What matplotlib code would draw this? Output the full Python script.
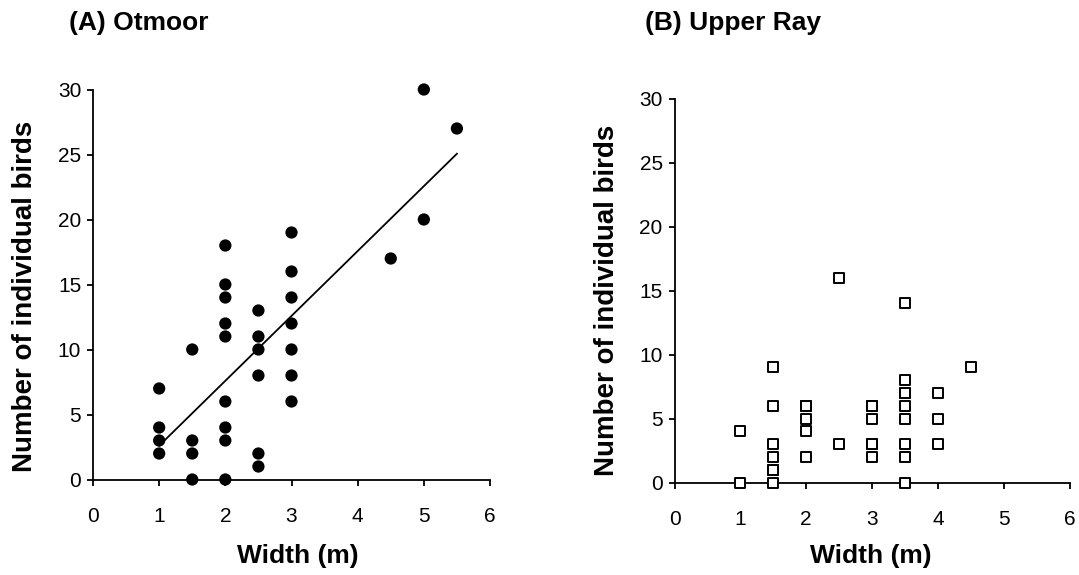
import numpy as np
import matplotlib
matplotlib.use("Agg")
import matplotlib.pyplot as plt

plt.rcParams['font.family'] = ['Liberation Sans', 'DejaVu Sans']

# Otmoor: hedge width (m) vs number of individual birds
otmoor_width = [1, 1, 1, 1,
                1.5, 1.5, 1.5, 1.5,
                2, 2, 2, 2, 2, 2, 2, 2, 2,
                2.5, 2.5, 2.5, 2.5, 2.5, 2.5,
                3, 3, 3, 3, 3, 3, 3,
                4.5, 5, 5, 5.5]
otmoor_birds = [7, 4, 3, 2,
                10, 3, 2, 0,
                18, 15, 14, 12, 11, 6, 4, 3, 0,
                13, 11, 10, 8, 2, 1,
                19, 16, 14, 12, 10, 8, 6,
                17, 30, 20, 27]

# Upper Ray: hedge width (m) vs number of individual birds
upper_ray_width = [1, 1,
                   1.5, 1.5, 1.5, 1.5, 1.5, 1.5, 1.5,
                   2, 2, 2, 2, 2,
                   2.5, 2.5,
                   3, 3, 3, 3, 3, 3,
                   3.5, 3.5, 3.5, 3.5, 3.5, 3.5, 3.5, 3.5, 3.5,
                   4, 4, 4,
                   4.5]
upper_ray_birds = [4, 0,
                   9, 6, 3, 2, 1, 1, 0,
                   6, 6, 5, 4, 2,
                   16, 3,
                   6, 6, 5, 3, 3, 2,
                   14, 8, 7, 7, 6, 5, 3, 2, 0,
                   7, 5, 3,
                   9]

x_ticks = [0, 1, 2, 3, 4, 5, 6]
y_ticks = [0, 5, 10, 15, 20, 25, 30]

W, H = 1079, 575
fig = plt.figure(figsize=(W / 100, H / 100), dpi=100)


def box(l, t, r, b):
    return [l / W, 1 - b / H, (r - l) / W, (b - t) / H]


ax_a = fig.add_axes(box(93, 89.5, 490, 479.5))
ax_b = fig.add_axes(box(674.5, 98.5, 1069.5, 482.5))

for ax in (ax_a, ax_b):
    ax.set_xlim(0, 6)
    ax.set_ylim(0, 30)
    ax.set_xticks(x_ticks)
    ax.set_yticks(y_ticks)
    for s in ('top', 'right'):
        ax.spines[s].set_visible(False)
    for s in ('left', 'bottom'):
        ax.spines[s].set_linewidth(1.3)
        ax.spines[s].set_zorder(2)
    ax.tick_params(axis='both', direction='out', length=4.5, width=1.3,
                   labelsize=15, color='black')
    ax.tick_params(axis='x', pad=15)
    ax.tick_params(axis='y', pad=4)

# Panel A: filled circles with a least-squares trend line
ax_a.scatter(otmoor_width, otmoor_birds, s=78, color='black',
             edgecolors='none', zorder=3, clip_on=False)
slope, intercept = np.polyfit(otmoor_width, otmoor_birds, 1)
xfit = np.array([min(otmoor_width), max(otmoor_width)])
ax_a.plot(xfit, slope * xfit + intercept, color='black', lw=1.3, zorder=2)

# Panel B: open squares
ax_b.scatter(upper_ray_width, upper_ray_birds, s=46, marker='s',
             facecolors='white', edgecolors='black', linewidths=1.4,
             zorder=3, clip_on=False)

label_kw = dict(fontsize=19, fontweight='bold')
fig.text(69 / W, 1 - 23 / H, '(A) Otmoor', ha='left', va='center', **label_kw)
fig.text(645 / W, 1 - 23 / H, '(B) Upper Ray', ha='left', va='center', **label_kw)

fig.text(298 / W, 1 - 556 / H, 'Width (m)', ha='center', va='center', **label_kw)
fig.text(871 / W, 1 - 556 / H, 'Width (m)', ha='center', va='center', **label_kw)

ylabel_kw = dict(fontsize=20, fontweight='bold', rotation=90,
                 ha='center', va='center')
fig.text(25 / W, 1 - 296 / H, 'Number of individual birds', **ylabel_kw)
fig.text(607 / W, 1 - 300 / H, 'Number of individual birds', **ylabel_kw)

fig.savefig('out.png', dpi=100)
